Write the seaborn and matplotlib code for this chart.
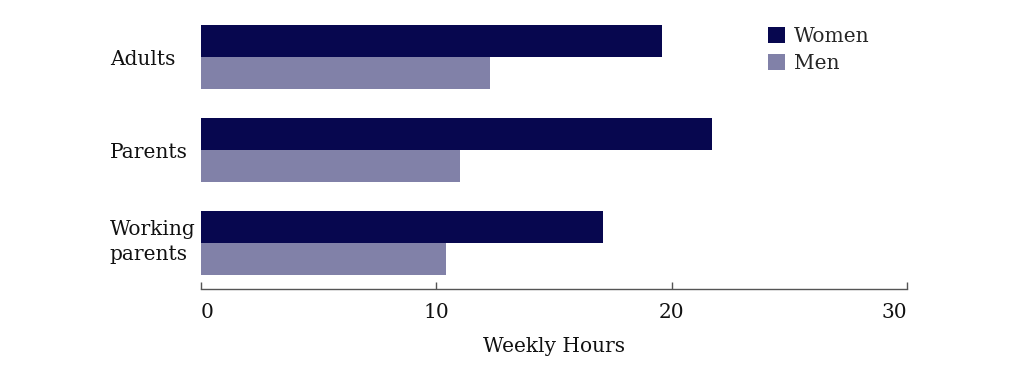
import matplotlib
matplotlib.use("Agg")
import matplotlib.pyplot as plt
import matplotlib.transforms as mtransforms
import seaborn as sns
import pandas as pd
from matplotlib.patches import Patch

categories = ["Adults", "Parents", "Working\nparents"]
women = [19.6, 21.7, 17.1]
men = [12.3, 11.0, 10.4]
series = ["Women", "Men"]
xticks = [0, 10, 20, 30]
colors = ["#07074f", "#8181a8"]

df = pd.DataFrame({
    "group": categories * 2,
    "hours": women + men,
    "sex": ["Women"] * 3 + ["Men"] * 3,
})

sns.set_theme(style="white")
plt.rcParams["font.family"] = ["DejaVu Serif"]

FS = 14.5
fig = plt.figure(figsize=(10.24, 3.79), dpi=100)
ax = fig.add_axes([0.196, 0.2375, 0.69, 0.7325])

sns.barplot(data=df, y="group", x="hours", hue="sex", order=categories,
            hue_order=series, palette=colors, orient="h", width=0.69,
            saturation=1, ax=ax, legend=False, edgecolor="none")

ax.set_xlim(0, 30)
ax.set_ylim(2.49, -0.49)
ax.set_xticks(xticks)
ax.set_xticklabels([str(t) for t in xticks], fontsize=FS, color="#111111")
lbls = ax.get_xticklabels()
lbls[0].set_ha("left")
lbls[-1].set_ha("right")
ax.tick_params(axis="x", bottom=True, direction="in", length=5, width=1,
               color="#555555", pad=10)
ax.tick_params(axis="y", left=False, length=0, pad=65.5, labelsize=FS,
               labelcolor="#111111")
for t in ax.get_yticklabels():
    t.set_ha("left")
    t.set_linespacing(1.35)
    if "\n" in t.get_text():
        t.set_transform(t.get_transform() +
                        mtransforms.ScaledTranslation(0, 0.06, fig.dpi_scale_trans))
ax.set_ylabel("")
ax.set_xlabel("Weekly Hours", fontsize=FS, color="#111111", labelpad=11)
for s in ["top", "right", "left"]:
    ax.spines[s].set_visible(False)
ax.spines["bottom"].set_color("#555555")
ax.spines["bottom"].set_linewidth(1)

handles = [Patch(facecolor=c, edgecolor="none") for c in colors]
ax.legend(handles, series, loc="upper left", bbox_to_anchor=(0.803, 0.945),
          frameon=False, fontsize=FS, handlelength=0.85, handleheight=0.85,
          handletextpad=0.45, labelspacing=0.42, borderaxespad=0, borderpad=0)

fig.savefig("out.png", dpi=100, facecolor="white")
